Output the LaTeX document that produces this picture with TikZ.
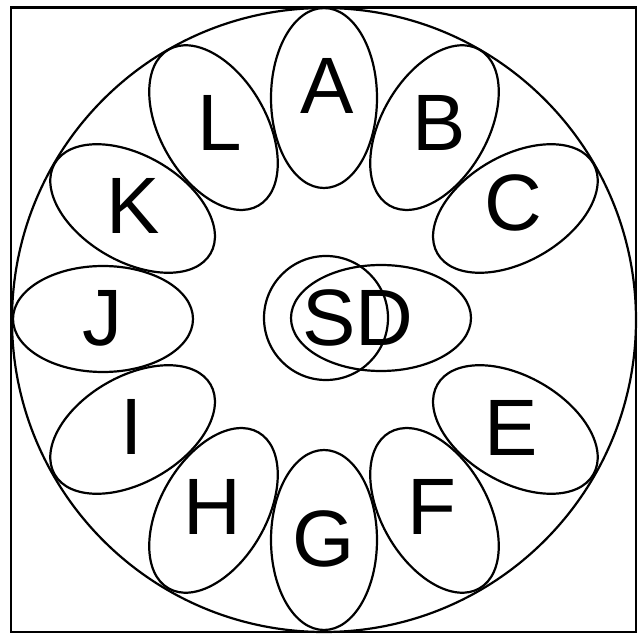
\documentclass[tikz,border=0pt]{standalone}
\usepackage{fontspec}
\setmainfont{Liberation Sans}
\usepackage{tikz}
\usetikzlibrary{shapes.geometric}

\begin{document}
\begin{tikzpicture}[x=1pt, y=1pt, line width=2.2pt,
    petal/.style={draw, ellipse, inner sep=0pt, minimum width=180, minimum height=106},
    lbl/.style={inner sep=0pt, font=\fontsize{80}{80}\selectfont}]
        \useasboundingbox (0,0) rectangle (641,633);
        \draw (11,1) rectangle (636,625.5);
        \coordinate (o) at (324,314);
        \draw (324,313) circle (312);

        % petals round the ring, D is the one in the middle
        \foreach \n/\a in {A/90,B/60,C/30,E/-30,F/-60,G/-90,H/-120,I/-150,J/180,K/150,L/120}
            \node[petal, rotate=\a] (p\n) at ([shift={(\a:221)}]o) {};

        \node[draw, circle, inner sep=0pt, minimum size=124] (sc) at (326,315) {};
        \node[petal] (pD) at (381,315) {};

        \node[lbl] (tA) at (327,547) {A};
        \node[lbl] (tB) at (439,510) {B};
        \node[lbl] (tC) at (513,430) {C};
        \node[lbl] (tE) at (511,205) {E};
        \node[lbl] (tF) at (432,126) {F};
        \node[lbl] (tG) at (324,94) {G};
        \node[lbl] (tH) at (212,126) {H};
        \node[lbl] (tI) at (132,206) {I};
        \node[lbl] (tJ) at (102,315) {J};
        \node[lbl] (tK) at (133,427) {K};
        \node[lbl] (tL) at (220,510) {L};
        \node[lbl] (tSD) at (358,315) {SD};
\end{tikzpicture}
\end{document}
